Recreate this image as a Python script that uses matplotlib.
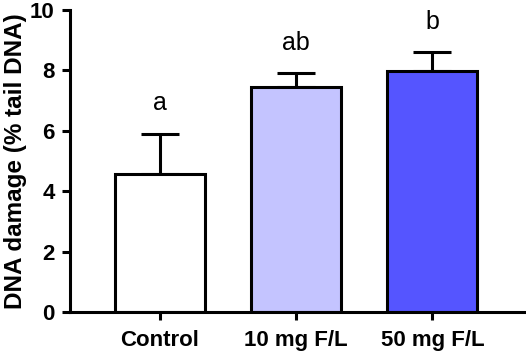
import numpy as np
import matplotlib.pyplot as plt

groups = ["Control", "10 mg F/L", "50 mg F/L"]
means = [4.57, 7.44, 7.99]
sems = [1.32, 0.46, 0.61]
letters = ["a", "ab", "b"]
colors = ["#FFFFFF", "#C4C4FF", "#5555FF"]

plt.rcParams['font.family'] = ['Liberation Sans', 'DejaVu Sans']

fig = plt.figure(figsize=(5.26, 3.51), dpi=100)
ax = fig.add_axes([0.133, 0.111, 0.865, 0.861])

x = np.arange(len(groups))
lw = 2.2
ax.bar(x, means, width=0.66, color=colors, edgecolor="black", linewidth=lw, zorder=2)
ax.errorbar(x, means, yerr=[np.zeros(len(sems)), sems], fmt="none", ecolor="black",
            elinewidth=lw, capsize=13.5, capthick=lw, zorder=1)

# significance letters above the error bars
for xi, m, s, lab in zip(x, means, sems, letters):
    ax.text(xi, m + s + 0.78, lab, ha="center", va="baseline", fontsize=18)

ax.set_xlim(-0.66, 2.68)
ax.set_ylim(0, 10)
ax.set_yticks([0, 2, 4, 6, 8, 10])
ax.set_xticks(x)
ax.set_xticklabels(groups, fontweight="bold", fontsize=16)
for t in ax.get_yticklabels():
    t.set_fontweight("bold")
    t.set_fontsize(16)
ax.set_ylabel("DNA damage (% tail DNA)", fontweight="bold", fontsize=17.5, labelpad=2)

ax.spines["top"].set_visible(False)
ax.spines["right"].set_visible(False)
ax.spines["left"].set_linewidth(lw)
ax.spines["bottom"].set_linewidth(lw)
ax.tick_params(axis="both", width=lw, length=6, pad=5)
ax.tick_params(axis="x", pad=7)

fig.savefig("out.png", dpi=100)
